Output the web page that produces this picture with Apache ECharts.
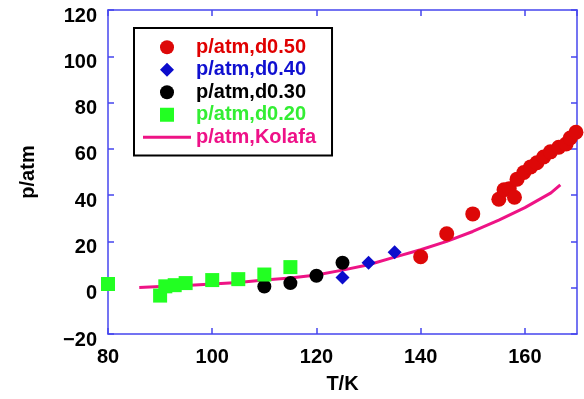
<!DOCTYPE html>
<html>
<head>
<meta charset="utf-8">
<script src="https://cdn.jsdelivr.net/npm/echarts@6/dist/echarts.min.js"></script>
<style>
  html, body { margin: 0; padding: 0; background: #fff; }
  #chart { width: 584px; height: 399px; }
</style>
</head>
<body>
<div id="chart"></div>
<script>
// Pressure vs temperature: simulation runs at several densities and the Kolafa equation of state
const FONT = '"Liberation Sans", Arial, sans-serif';
const AXIS_BLUE = '#4646ee';

const xTicks = { min: 80, max: 170, step: 20 };
const yTicks = { min: -20, max: 120, step: 20 };

const d050T = [140, 145, 150, 155, 156, 157, 158, 158.5, 159.8, 161.1, 162.3, 163.6, 164.9, 166.5, 167.9, 168.7, 169.8];
const d050P = [13.4, 23.3, 31.9, 38.2, 42.3, 42.8, 39.1, 46.9, 49.8, 52.2, 54.0, 56.5, 58.7, 60.7, 62.1, 64.7, 67.2];

const d040T = [125, 130, 135];
const d040P = [4.4, 10.8, 15.3];

const d030T = [110, 115, 120, 125];
const d030P = [0.5, 2.0, 5.2, 10.8];

const d020T = [80, 90, 91, 92.8, 94.9, 100, 105, 110, 115];
const d020P = [1.6, -3.4, 0.6, 1.1, 2.0, 3.3, 3.7, 5.7, 8.9];

const kolafaT = [86, 90, 95, 100, 105, 110, 115, 120, 125, 130, 135, 140, 145, 150, 155, 160, 165, 166.8];
const kolafaP = [0.1, 0.5, 1.0, 1.6, 2.3, 3.3, 4.2, 5.5, 7.6, 9.9, 13.2, 16.4, 20.0, 24.3, 29.2, 34.6, 41.0, 44.4];

const names = ['p/atm,d0.50', 'p/atm,d0.40', 'p/atm,d0.30', 'p/atm,d0.20', 'p/atm,Kolafa'];
const colors = ['#dd0808', '#0c0ccc', '#000000', '#22ff22', '#ee1385'];
const legendTextColors = ['#e00000', '#1010d0', '#000000', '#33ee33', '#ee1188'];

const pairs = (xs, ys) => xs.map((x, i) => [x, ys[i]]);
// typographic minus sign for negative tick values
const fmtTick = v => String(v).replace('-', '\u2212');

const chart = echarts.init(document.getElementById('chart'), null, { renderer: 'canvas' });

const baseAxisX = {
  type: 'value',
  min: xTicks.min, max: xTicks.max, interval: xTicks.step,
  splitLine: { show: false },
  axisLine: { show: true, onZero: false, lineStyle: { color: AXIS_BLUE, width: 1.5 } },
  axisTick: { show: true, inside: true, length: 6, lineStyle: { color: AXIS_BLUE, width: 1.5 } }
};
const baseAxisY = {
  type: 'value',
  min: yTicks.min, max: yTicks.max, interval: yTicks.step,
  splitLine: { show: false },
  axisLine: { show: true, onZero: false, lineStyle: { color: AXIS_BLUE, width: 1.5 } },
  axisTick: { show: true, inside: true, length: 6, lineStyle: { color: AXIS_BLUE, width: 1.5 } }
};

const labelStyle = { fontFamily: FONT, fontWeight: 'bold', fontSize: 20, color: '#000' };

chart.setOption({
  animation: false,
  backgroundColor: '#fff',
  grid: { left: 108, right: 7, top: 10, bottom: 60, containLabel: false },
  xAxis: [
    Object.assign({}, baseAxisX, {
      position: 'bottom',
      name: 'T/K', nameLocation: 'middle', nameGap: 40,
      nameTextStyle: labelStyle,
      axisLabel: Object.assign({ margin: 13, showMaxLabel: false }, labelStyle)
    }),
    Object.assign({}, baseAxisX, { position: 'top', axisLabel: { show: false } })
  ],
  yAxis: [
    Object.assign({}, baseAxisY, {
      position: 'left',
      name: 'p/atm', nameLocation: 'middle', nameGap: 70, nameRotate: 90,
      nameTextStyle: labelStyle,
      axisLabel: Object.assign({ margin: 11, verticalAlign: 'top', lineHeight: 12, formatter: fmtTick }, labelStyle)
    }),
    Object.assign({}, baseAxisY, { position: 'right', axisLabel: { show: false } })
  ],
  legend: {
    orient: 'vertical',
    left: 134, top: 28,
    padding: [8, 16, 7, 9],
    itemWidth: 48, itemHeight: 14,
    itemGap: 0,
    borderColor: '#000', borderWidth: 2,
    selectedMode: false,
    symbolKeepAspect: true,
    textStyle: { fontFamily: FONT, fontWeight: 'bold', fontSize: 20, lineHeight: 22.5 },
    data: [
      { name: names[0], icon: 'circle', textStyle: { color: legendTextColors[0] } },
      { name: names[1], icon: 'path://M6 0L12 6L6 12L0 6Z', textStyle: { color: legendTextColors[1] } },
      { name: names[2], icon: 'circle', textStyle: { color: legendTextColors[2] } },
      { name: names[3], icon: 'path://M0 0H13V13H0Z', textStyle: { color: legendTextColors[3] } },
      { name: names[4], icon: 'path://M0 0H16V1H0Z', textStyle: { color: legendTextColors[4] } }
    ]
  },
  series: [
    {
      name: names[4], type: 'line', data: pairs(kolafaT, kolafaP),
      showSymbol: false, symbol: 'none', smooth: false, z: 1,
      lineStyle: { color: colors[4], width: 3 }, itemStyle: { color: colors[4] }
    },
    {
      name: names[0], type: 'scatter', data: pairs(d050T, d050P),
      symbol: 'circle', symbolSize: 15, z: 2, itemStyle: { color: colors[0], opacity: 1 }
    },
    {
      name: names[1], type: 'scatter', data: pairs(d040T, d040P),
      symbol: 'diamond', symbolSize: 14, z: 3, itemStyle: { color: colors[1], opacity: 1 }
    },
    {
      name: names[2], type: 'scatter', data: pairs(d030T, d030P),
      symbol: 'circle', symbolSize: 14, z: 4, itemStyle: { color: colors[2], opacity: 1 }
    },
    {
      name: names[3], type: 'scatter', data: pairs(d020T, d020P),
      symbol: 'rect', symbolSize: 14, z: 5, itemStyle: { color: colors[3], opacity: 1 }
    }
  ]
});
</script>
</body>
</html>
